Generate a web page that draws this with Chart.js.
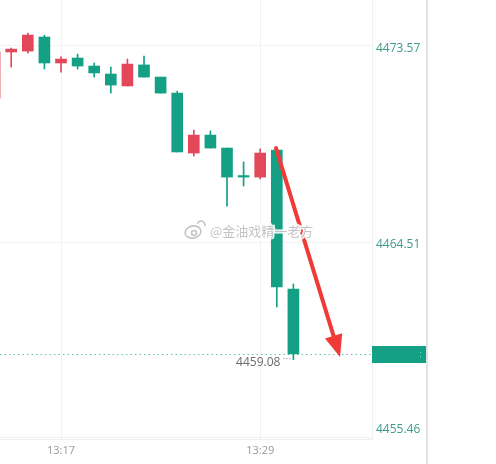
<!DOCTYPE html>
<html><head><meta charset="utf-8">
<script src="https://cdn.jsdelivr.net/npm/chart.js@4.4.1/dist/chart.umd.min.js"></script>
<style>html,body{margin:0;padding:0;background:#fff;overflow:hidden}canvas{display:block}</style>
</head><body>
<canvas id="c" width="496" height="464" style="width:496px;height:464px"></canvas>
<script>
// ---- data ----
const times  = ['13:13','13:14','13:15','13:16','13:17','13:18','13:19','13:20','13:21','13:22','13:23','13:24','13:25','13:26','13:27','13:28','13:29','13:30','13:31'];
const opens  = [4471.16,4473.29,4473.33,4473.98,4472.78,4473.01,4472.64,4472.27,4471.72,4472.69,4472.13,4471.39,4468.62,4469.45,4468.85,4467.51,4467.51,4468.76,4462.34];
const highs  = [4473.40,4473.47,4474.16,4474.07,4473.06,4473.19,4472.78,4472.59,4472.96,4473.10,4472.13,4471.48,4469.68,4469.64,4468.85,4468.21,4468.81,4468.81,4462.57];
const lows   = [4470.90,4472.59,4473.24,4472.50,4472.36,4472.50,4472.13,4471.39,4471.72,4472.13,4471.39,4468.67,4468.48,4468.85,4466.17,4467.10,4467.42,4461.51,4459.08];
const closes = [4473.29,4473.42,4474.07,4472.78,4472.96,4472.64,4472.32,4471.76,4472.73,4472.13,4471.39,4468.67,4469.45,4468.85,4467.51,4467.51,4468.62,4462.43,4459.34];
const xTickIdx = [4, 16];
const yTicks = [4455.46, 4464.51, 4473.57];
const lastPrice = 4459.34;
const lowIndex = 18;
const arrowFrom = [16.95, 4468.85];
const arrowTo = [20.81, 4459.2];
const watermark = '@金油戏精一老方';

const UP = '#e2475a', DOWN = '#14a085';
const idx = times.map((t,i)=>i);
const colorOf = i => closes[i] > opens[i] ? UP : DOWN;

const bodyData = idx.map(i => ({x:i, y:[Math.min(opens[i],closes[i]), Math.max(opens[i],closes[i])]}));
const wickData = idx.map(i => ({x:i, y:[lows[i], highs[i]]}));

const overlay = {
  id:'overlay',
  beforeDatasetsDraw(chart){
    const {ctx, chartArea:a, scales:{y}} = chart;
    const py = Math.round(y.getPixelForValue(lastPrice)) + 0.5;
    ctx.save();
    ctx.strokeStyle = '#62c2b1'; ctx.lineWidth = 1; ctx.setLineDash([1.5,3]);
    ctx.beginPath(); ctx.moveTo(a.left, py); ctx.lineTo(a.right, py); ctx.stroke();
    ctx.restore();
  },
  afterDatasetsDraw(chart){
    const {ctx, scales:{x,y}} = chart;
    const x0 = x.getPixelForValue(arrowFrom[0]), y0 = y.getPixelForValue(arrowFrom[1]);
    const x1 = x.getPixelForValue(arrowTo[0]),   y1 = y.getPixelForValue(arrowTo[1]);
    const dx = x1-x0, dy = y1-y0, L = Math.hypot(dx,dy), ux = dx/L, uy = dy/L;
    const hl = 22, hw = 9;
    const bx = x1 - ux*hl, by = y1 - uy*hl;
    ctx.save();
    ctx.strokeStyle = '#ef3b37'; ctx.fillStyle = '#ef3b37'; ctx.lineWidth = 4; ctx.lineCap = 'round';
    ctx.beginPath(); ctx.moveTo(x0,y0); ctx.lineTo(bx+ux*2, by+uy*2); ctx.stroke();
    ctx.beginPath(); ctx.moveTo(x1,y1); ctx.lineTo(bx - uy*hw, by + ux*hw); ctx.lineTo(bx + uy*hw, by - ux*hw); ctx.closePath(); ctx.fill();
    ctx.restore();
  },
  afterDraw(chart){
    const {ctx, chartArea:a, scales:{x,y}} = chart;
    ctx.save();
    ctx.fillStyle = '#e2e2e2';
    ctx.fillRect(y.right, 0, 2, chart.height);
    ctx.font = '12px "Open Sans"'; ctx.fillStyle = '#3a9c8b'; ctx.textAlign = 'left'; ctx.textBaseline = 'middle';
    yTicks.forEach(v => {
      let py = y.getPixelForValue(v) + 3;
      py = Math.min(py, a.bottom - 9);
      ctx.fillText(v.toFixed(2), y.left + 4, py);
    });
    const pp = y.getPixelForValue(lastPrice);
    ctx.fillStyle = DOWN;
    ctx.fillRect(y.left, Math.round(pp) - 8, y.right - y.left, 17);
    ctx.fillStyle = 'rgba(255,255,255,0.5)';
    ctx.fillRect(y.right - 6, Math.round(pp) - 2, 1, 1);
    ctx.fillRect(y.right - 6, Math.round(pp) + 2, 1, 1);
    const lx = x.getPixelForValue(lowIndex), ly = y.getPixelForValue(lows[lowIndex]);
    ctx.fillStyle = '#6b6b6b'; ctx.textAlign = 'right'; ctx.textBaseline = 'middle';
    ctx.fillText(lows[lowIndex].toFixed(2), lx - 13, ly + 3);
    ctx.strokeStyle = '#888'; ctx.lineWidth = 1; ctx.setLineDash([1,2]);
    ctx.beginPath(); ctx.moveTo(lx - 10, Math.round(ly) - 1.5); ctx.lineTo(lx - 1, Math.round(ly) - 1.5); ctx.stroke();
    ctx.setLineDash([]);
    const wx = 193, wy = 231;
    ctx.strokeStyle = 'rgba(190,190,190,0.9)'; ctx.lineWidth = 1.6;
    ctx.beginPath(); ctx.ellipse(wx, wy+1, 8, 6, -0.2, 0, Math.PI*2); ctx.stroke();
    ctx.beginPath(); ctx.arc(wx+1, wy+2, 2.5, 0, Math.PI*2); ctx.stroke();
    ctx.beginPath(); ctx.arc(wx+8, wy-6, 4, -Math.PI*0.9, Math.PI*0.1); ctx.stroke();
    ctx.font = '13px "Noto Sans CJK SC"'; ctx.textAlign = 'left'; ctx.textBaseline = 'middle';
    ctx.lineWidth = 3; ctx.strokeStyle = 'rgba(255,255,255,0.9)';
    ctx.strokeText(watermark, 210, wy);
    ctx.fillStyle = 'rgba(175,175,175,0.75)';
    ctx.fillText(watermark, 210, wy);
    ctx.restore();
  }
};

new Chart(document.getElementById('c'), {
  type: 'bar',
  data: {
    datasets: [
      { data: wickData, grouped:false, barThickness: 1, backgroundColor: idx.map(colorOf), borderWidth:0, order: 2 },
      { data: bodyData, grouped:false, barThickness: 11, minBarLength: 1.5, backgroundColor: idx.map(colorOf), borderWidth:0, order: 1 }
    ]
  },
  options: {
    responsive: false, animation: false, devicePixelRatio: 1,
    layout: { padding: { left:0, top:0, right:70, bottom:0 } },
    plugins: { legend:{display:false}, tooltip:{enabled:false} },
    scales: {
      x: {
        type:'linear', min:0.325, max:22.735, offset:false,
        afterBuildTicks: s => { s.ticks = xTickIdx.map(v => ({value:v})); },
        afterFit: s => { s.height = 25; },
        grid: { color:'#f2f2f2', drawTicks:false, offset:false },
        border: { color:'#eeeeee' },
        ticks: { padding:5, color:'#9a9a9a', font:{family:'Open Sans', size:11}, callback: v => times[v] }
      },
      y: {
        type:'linear', position:'right', min:4455.41, max:4475.69,
        afterBuildTicks: s => { s.ticks = yTicks.map(v => ({value:v})); },
        afterFit: s => { s.width = 54; },
        grid: { color:'#f2f2f2', drawTicks:false },
        border: { color:'#f0f0f0' },
        ticks: { display:false }
      }
    }
  },
  plugins: [overlay]
});
</script></body></html>
